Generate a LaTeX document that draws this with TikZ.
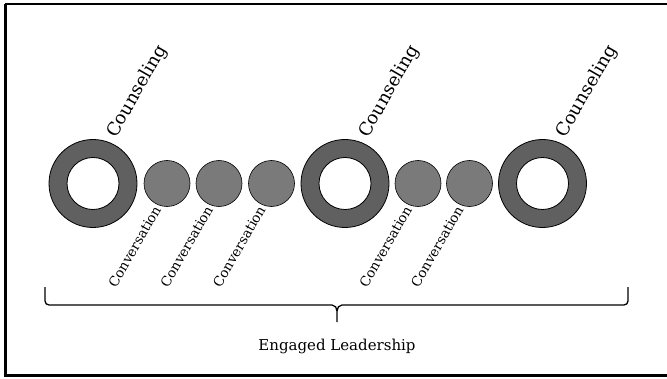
\documentclass[tikz,border=0pt]{standalone}
\usepackage{fontspec}
\setmainfont{DejaVu Serif}
\usepackage{tikz}
\usetikzlibrary{positioning}
\definecolor{ringgray}{RGB}{96,96,96}
\definecolor{talkgray}{RGB}{122,122,122}
\tikzset{
  ring/.style={draw=black, line width=0.8pt, fill=ringgray, even odd rule},
  talk/.style={circle, draw=black, line width=0.6pt, fill=talkgray, minimum size=46pt, inner sep=0pt},
  counsel/.style={anchor=base west, rotate=60, inner sep=0pt, font=\fontsize{18}{20}\selectfont},
  convo/.style={anchor=base east, rotate=60, inner sep=0pt, font=\fontsize{13.5}{15}\selectfont}
}

\begin{document}
\begin{tikzpicture}[x=1pt, y=1pt]
\useasboundingbox (0,0) rectangle (667,378);
% Frame
\draw[line width=2.5pt] (5.3,374.1) -- (5.3,2.4) -- (680,2.4);
\draw[line width=2.5pt] (5.3,374.1) -- (680,374.1);

% Counseling rings
\coordinate (ring1) at (93,194.5);
\coordinate (ring2) at (345,194.5);
\coordinate (ring3) at (542.5,194.5);
\foreach \r in {ring1,ring2,ring3}{
  \path[ring] (\r) circle[radius=44] (\r) circle[radius=26];
  \node[counsel] at ([shift={(23,45)}]\r) {Counseling};
}

% Conversations
\node[talk] (talk1) at (167,194.5) {};
\node[talk] (talk2) at (219,194.5) {};
\node[talk] (talk3) at (271.5,194.5) {};
\node[talk] (talk4) at (418,194.5) {};
\node[talk] (talk5) at (469.5,194.5) {};
\foreach \t in {talk1,talk2,talk3,talk4,talk5}
  \node[convo] at ([shift={(-5.5,-26)}]\t.center) {Conversation};

% Brace
\coordinate (braceL) at (45,91);
\coordinate (braceR) at (628,91);
\coordinate (braceTip) at (337,56);
\draw[line width=1.3pt] (braceL) -- (45,77) to[out=-90,in=180] (49,73) -- (332,73)
  to[out=0,in=90] (braceTip |- 0,67) -- (braceTip);
\draw[line width=1.3pt] (braceTip |- 0,67) to[out=90,in=180] (342,73) -- (624,73)
  to[out=0,in=-90] (628,77) -- (braceR);
\node[below=14pt of braceTip, font=\fontsize{15}{17}\selectfont] (lead) {Engaged Leadership};
\end{tikzpicture}
\end{document}
